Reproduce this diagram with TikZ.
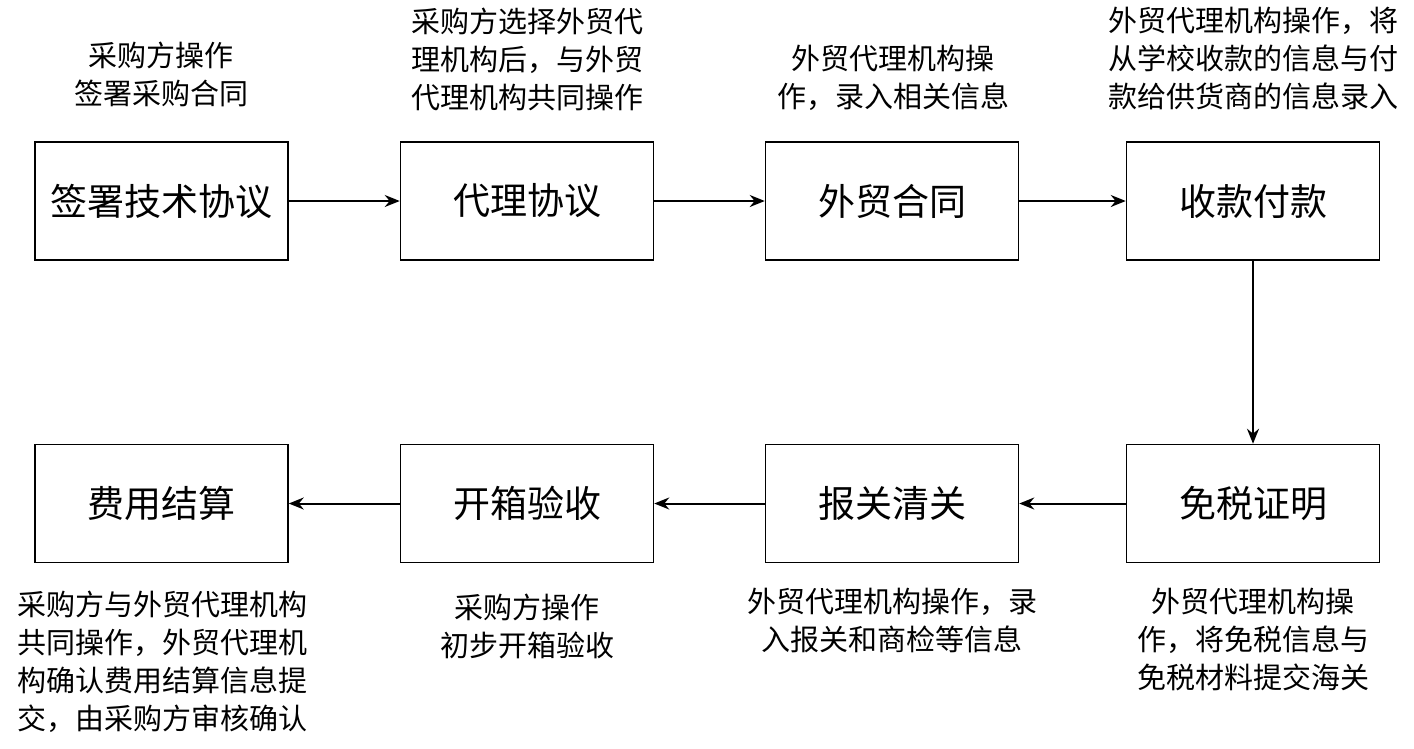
\documentclass[tikz,border=0pt]{standalone}
\usepackage{fontspec}
\setmainfont{Noto Sans CJK SC}
\usetikzlibrary{arrows.meta}
\begin{document}
\begin{tikzpicture}[x=1pt,y=-1pt,
  stepbox/.style={draw=black,line width=1.5pt,minimum width=253pt,minimum height=118pt,inner sep=0pt,font=\fontsize{37pt}{42pt}\selectfont},
  note/.style={align=center,inner sep=0pt,font=\fontsize{29pt}{38pt}\selectfont},
  flow/.style={line width=2pt,-{Stealth[length=15pt,width=12pt]}}]
\useasboundingbox (0,0) rectangle (1414,748);
\node[stepbox] (b1) at (161.5,201) {签署技术协议};
\node[stepbox] (b2) at (527,201) {代理协议};
\node[stepbox] (b3) at (892,201) {外贸合同};
\node[stepbox] (b4) at (1253,201) {收款付款};
\node[stepbox] (b8) at (1253,503.5) {免税证明};
\node[stepbox] (b7) at (892,503.5) {报关清关};
\node[stepbox] (b6) at (527,503.5) {开箱验收};
\node[stepbox] (b5) at (161.5,503.5) {费用结算};
\draw[flow] (b1) -- (b2);
\draw[flow] (b2) -- (b3);
\draw[flow] (b3) -- (b4);
\draw[flow] (b4) -- (b8);
\draw[flow] (b8) -- (b7);
\draw[flow] (b7) -- (b6);
\draw[flow] (b6) -- (b5);
\node[note] (n1) at (161,74) {采购方操作\\签署采购合同};
\node[note] (n2) at (527,59) {采购方选择外贸代\\理机构后，与外贸\\代理机构共同操作};
\node[note] (n3) at (893,78) {外贸代理机构操\\作，录入相关信息};
\node[note] (n4) at (1253,59) {外贸代理机构操作，将\\从学校收款的信息与付\\款给供货商的信息录入};
\node[note] (n8) at (1253,639) {外贸代理机构操\\作，将免税信息与\\免税材料提交海关};
\node[note] (n7) at (892,620) {外贸代理机构操作，录\\入报关和商检等信息};
\node[note] (n6) at (527,626) {采购方操作\\初步开箱验收};
\node[note] (n5) at (162,662) {采购方与外贸代理机构\\共同操作，外贸代理机\\构确认费用结算信息提\\交，由采购方审核确认};
\end{tikzpicture}
\end{document}
